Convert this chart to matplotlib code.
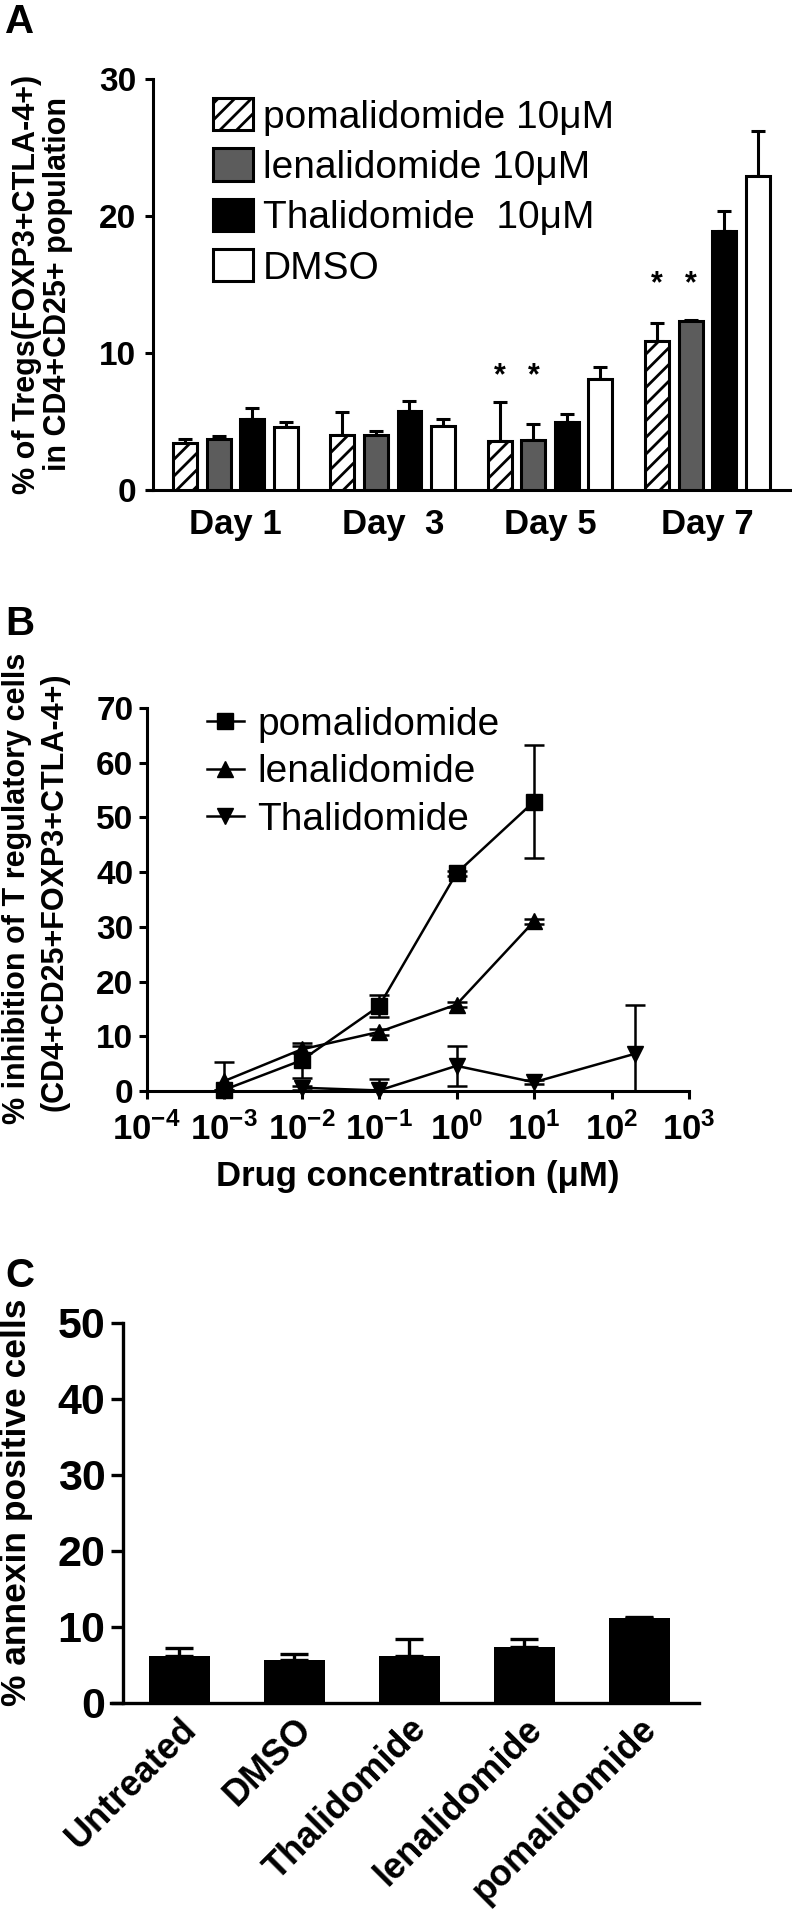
import numpy as np
import matplotlib
matplotlib.use("Agg")
import matplotlib.pyplot as plt

plt.rcParams['font.family'] = ['Liberation Sans', 'DejaVu Sans']
plt.rcParams['mathtext.fontset'] = 'custom'
plt.rcParams['mathtext.bf'] = 'Liberation Sans:bold'
plt.rcParams['mathtext.rm'] = 'Liberation Sans'
plt.rcParams['hatch.linewidth'] = 2.0

# ── Panel A: % Tregs over time ───────────────
days = ["Day 1", "Day  3", "Day 5", "Day 7"]
treg_names = ["pomalidomide 10\u03bcM", "lenalidomide 10\u03bcM",
              "Thalidomide  10\u03bcM", "DMSO"]
treg_pom = [3.4, 4.0, 3.6, 10.9]
treg_pom_err = [0.3, 1.7, 2.8, 1.3]
treg_len = [3.7, 4.0, 3.65, 12.3]
treg_len_err = [0.25, 0.3, 1.15, 0.1]
treg_thal = [5.2, 5.8, 5.0, 18.9]
treg_thal_err = [0.8, 0.7, 0.55, 1.5]
treg_dmso = [4.6, 4.7, 8.1, 22.9]
treg_dmso_err = [0.4, 0.5, 0.9, 3.3]
star_days = [2, 3]
star_y = [8.3, 15.0]

# ── Panel B: inhibition vs concentration ─────
conc_pl = [1e-3, 1e-2, 1e-1, 1e0, 1e1]
pom_inh = [0.2, 5.6, 15.5, 39.8, 52.9]
pom_inh_err = [0.0, 3.2, 2.0, 0.5, 10.3]
len_inh = [1.8, 7.6, 10.8, 15.8, 31.0]
len_inh_err = [3.5, 0.6, 0.5, 0.5, 0.5]
conc_thal = [1e-2, 1e-1, 1e0, 1e1, 2e2]
thal_inh = [0.6, 0.1, 4.6, 1.6, 6.8]
thal_inh_err = [0.4, 2.1, 3.7, 0.4, 9.0]
drug_names = ["pomalidomide", "lenalidomide", "Thalidomide"]
xtick_exp = [-4, -3, -2, -1, 0, 1, 2, 3]

# ── Panel C: apoptosis ───────────────────────
apop_names = ["Untreated", "DMSO", "Thalidomide", "lenalidomide", "pomalidomide"]
apop_vals = [6.2, 5.6, 6.2, 7.4, 11.2]
apop_err = [1.1, 0.8, 2.2, 1.0, 0.1]

W, H = 792, 1909
fig = plt.figure(figsize=(W / 100, H / 100), dpi=100)


def px_axes(left, top, right, bottom):
    return fig.add_axes([left / W, 1 - bottom / H, (right - left) / W, (bottom - top) / H])


def style_axes(ax, lw=2.2, tick_len=6):
    for s in ["top", "right"]:
        ax.spines[s].set_visible(False)
    for s in ["left", "bottom"]:
        ax.spines[s].set_linewidth(lw)
    ax.tick_params(direction="out", width=lw, length=tick_len)


def vtext(xpx, ypx, s, size):
    fig.text(xpx / W, 1 - ypx / H, s, rotation=90, ha="center", va="center",
             fontsize=size, fontweight="bold")


# ─────────────── A ───────────────
axA = px_axes(147, 79, 790, 490)
style_axes(axA)
axA.set_xlim(-0.561, 3.524)
axA.set_ylim(0, 30)
axA.spines["left"].set_position(("data", -0.523))
x = np.arange(len(days))
offs = (np.arange(4) - 1.5) * 0.213
series = [
    (treg_pom, treg_pom_err, "white", "//"),
    (treg_len, treg_len_err, "#5c5c5c", None),
    (treg_thal, treg_thal_err, "black", None),
    (treg_dmso, treg_dmso_err, "white", None),
]
handles = []
for (vals, err, fc, hatch), off, name in zip(series, offs, treg_names):
    b = axA.bar(x + off, vals, width=0.152, color=fc, edgecolor="black",
                linewidth=2.2, hatch=hatch, zorder=3, label=name)
    axA.errorbar(x + off, vals, yerr=[np.zeros(len(vals)), err], fmt="none",
                 ecolor="black", elinewidth=2.2, capsize=5, capthick=2.2, zorder=2)
    handles.append(b)
for d, sy in zip(star_days, star_y):
    for off in offs[:2]:
        axA.text(d + off, sy, "*", ha="center", va="center", fontsize=22, fontweight="bold")
axA.set_xticks(x)
axA.set_xticklabels(days, fontsize=25, fontweight="bold")
axA.tick_params(axis="x", length=0, pad=13)
axA.tick_params(axis="y", pad=6)
axA.set_yticks([0, 10, 20, 30])
axA.set_yticklabels(["0", "10", "20", "30"], fontsize=24, fontweight="bold")
axA.legend(handles=handles, loc="upper left", bbox_to_anchor=(213 / W, 1 - 98 / H),
           bbox_transform=fig.transFigure, frameon=False, fontsize=28,
           handlelength=1.03, handleheight=0.9, handletextpad=0.26,
           labelspacing=0.33, borderpad=0, borderaxespad=0)
vtext(27, 284, "% of Tregs(FOXP3+CTLA-4+)", 22)
vtext(58, 284, "in CD4+CD25+ population", 22)

# ─────────────── B ───────────────
axB = px_axes(146.5, 708, 689, 1091)
style_axes(axB)
axB.set_xscale("log")
axB.set_xlim(1e-4, 1e3)
axB.set_ylim(0, 70)
for cx, vals, err, mk, name in [(conc_pl, pom_inh, pom_inh_err, "s", drug_names[0]),
                                (conc_pl, len_inh, len_inh_err, "^", drug_names[1]),
                                (conc_thal, thal_inh, thal_inh_err, "v", drug_names[2])]:
    # error bars stay clipped at the x axis, markers may sit on it
    axB.errorbar(cx, vals, yerr=err, fmt="none", ecolor="black",
                 elinewidth=1.8, capsize=7, capthick=1.8)
    axB.plot(cx, vals, "-" + mk, color="black", lw=1.8, ms=12, clip_on=False, label=name)
axB.set_xticks([10.0 ** e for e in xtick_exp])
axB.set_xticklabels([r"$\mathbf{10^{%d}}$" % e for e in xtick_exp], fontsize=25)
axB.minorticks_off()
axB.tick_params(axis="x", pad=9)
axB.set_yticks(np.arange(0, 71, 10))
axB.set_yticklabels([str(v) for v in range(0, 71, 10)], fontsize=24, fontweight="bold")
axB.set_xlabel("Drug concentration (\u03bcM)", fontsize=25, fontweight="bold", labelpad=10)
axB.legend(loc="upper left", bbox_to_anchor=(207 / W, 1 - 707 / H),
           bbox_transform=fig.transFigure, frameon=False, fontsize=28,
           handlelength=0.95, handletextpad=0.35, labelspacing=0.29,
           borderpad=0, borderaxespad=0)
vtext(17, 888, "% inhibition of T regulatory cells", 22)
vtext(55, 892, "(CD4+CD25+FOXP3+CTLA-4+)", 22)

# ─────────────── C ───────────────
axC = px_axes(111, 1323, 699, 1703)
style_axes(axC, lw=2.4, tick_len=9)
axC.set_xlim(-0.595, 4.52)
axC.set_ylim(0, 50)
axC.spines["left"].set_position(("data", -0.493))
xc = np.arange(len(apop_names))
axC.bar(xc, apop_vals, width=0.527, color="black", zorder=3)
axC.errorbar(xc, apop_vals, yerr=[np.zeros(len(apop_vals)), apop_err], fmt="none",
             ecolor="black", elinewidth=2.4, capsize=10, capthick=2.4, zorder=2)
axC.set_xticks(xc)
axC.set_xticklabels(apop_names, rotation=45, ha="right", va="top", rotation_mode="anchor",
                    fontsize=26, fontweight="bold")
axC.tick_params(axis="x", length=0, pad=6)
axC.set_yticks(np.arange(0, 51, 10))
axC.set_yticklabels([str(v) for v in range(0, 51, 10)], fontsize=31, fontweight="bold")
vtext(17, 1502, "% annexin positive cells", 25.5)

# panel letters
for lbl, top in [("A", 3), ("B", 605), ("C", 1257)]:
    fig.text(5 / W, 1 - top / H, lbl, ha="left", va="top", fontsize=29, fontweight="bold")

fig.savefig("out.png", dpi=100)
